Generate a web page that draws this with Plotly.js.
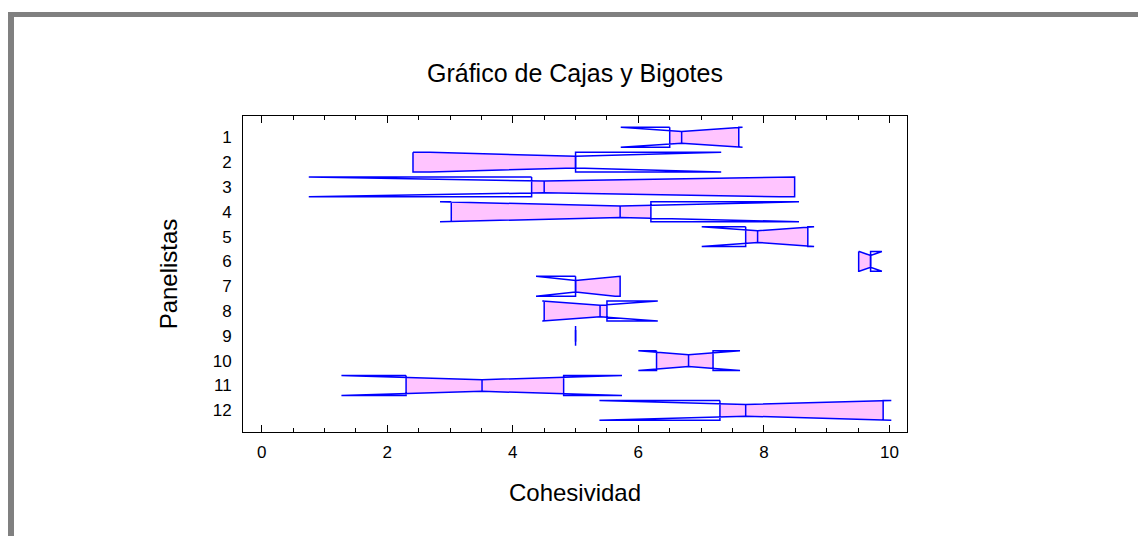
<!DOCTYPE html>
<html>
<head>
<meta charset="utf-8">
<script src="https://cdn.plot.ly/plotly-3.0.1.min.js"></script>
<style>
  html, body { margin:0; padding:0; background:#fff; }
  #wrap { position:relative; width:1138px; height:536px; overflow:hidden; }
  #chart { position:absolute; left:0; top:0; width:1138px; height:536px; }
  #frame { position:absolute; left:8px; top:12px; right:0; bottom:0;
           border-left:6px solid #808080; border-top:5px solid #808080;
           pointer-events:none; }
</style>
</head>
<body>
<div id="wrap">
  <div id="chart"></div>
  <div id="frame"></div>
</div>
<script>
// ---- Data ----
const panelistas = [1, 2, 3, 4, 5, 6, 7, 8, 9, 10, 11, 12];
const etiquetas  = ['1','2','3','4','5','6','7','8','9','10','11','12'];
const q1        = [6.50, 2.41, 4.30, 3.02, 7.71, 9.51, 5.00, 4.50, 5.00, 6.29, 2.30, 7.30];
const mediana   = [6.69, 5.00, 4.50, 5.71, 7.90, 9.70, 5.00, 5.39, 5.00, 6.80, 3.51, 7.71];
const q3        = [7.60, 5.00, 8.49, 6.20, 8.70, 9.70, 5.71, 5.50, 5.00, 7.19, 4.81, 9.90];
const muescaInf = [5.72, 2.68, 0.75, 2.84, 7.01, 9.52, 4.37, 4.47, 5.00, 6.00, 1.27, 5.38];
const muescaSup = [7.66, 7.32, 8.25, 8.56, 8.80, 9.88, 5.63, 6.31, 5.00, 7.62, 5.74, 10.03];

// ---- Styling ----
const H = 0.40;   // box half-height (category units)
const W = 0.235;  // notch waist half-height
const azul = '#0000ff';
const rosa = '#ffc4ff';

function halfH(x, nL, med, nH) {
  if (x <= nL || x >= nH) return H;
  if (x < med) return med === nL ? W : H - (H - W) * (x - nL) / (med - nL);
  return nH === med ? W : H - (H - W) * (nH - x) / (nH - med);
}

const traces = [];
const outlines = [];
for (let i = 0; i < panelistas.length; i++) {
  const c = panelistas[i];
  const a = q1[i], m = mediana[i], b = q3[i], nL = muescaInf[i], nH = muescaSup[i];
  // pink fill, limited to [Q1, Q3]
  if (b > a) {
    let xs = [a, b];
    [nL, m, nH].forEach(v => { if (v > a && v < b) xs.push(v); });
    xs = Array.from(new Set(xs)).sort((p, q) => p - q);
    const px = [], py = [];
    xs.forEach(x => { px.push(x); py.push(c - halfH(x, nL, m, nH)); });
    xs.slice().reverse().forEach(x => { px.push(x); py.push(c + halfH(x, nL, m, nH)); });
    px.push(px[0]); py.push(py[0]);
    traces.push({ type:'scatter', mode:'lines', x:px, y:py, fill:'toself',
      fillcolor:rosa, line:{width:0, color:rosa}, hoverinfo:'skip', showlegend:false });
  }
  // notched outline
  outlines.push({ type:'scatter', mode:'lines',
    x:[a, nL, m, nH, b, b, nH, m, nL, a, a],
    y:[c-H, c-H, c-W, c-H, c-H, c+H, c+H, c+W, c+H, c+H, c-H],
    line:{color:azul, width:1.5}, hoverinfo:'skip', showlegend:false });
  // median line
  outlines.push({ type:'scatter', mode:'lines', x:[m, m], y:[c-W, c+W],
    line:{color:azul, width:1.5}, hoverinfo:'skip', showlegend:false });
}

const fam = '"Liberation Sans", Arial, sans-serif';
const layout = {
  width:1138, height:536,
  margin:{l:243, r:231, t:116, b:104, pad:0},
  paper_bgcolor:'#ffffff', plot_bgcolor:'#ffffff',
  showlegend:false,
  font:{family:fam, color:'#000', size:17},
  title:{text:'Gráfico de Cajas y Bigotes', font:{family:fam, size:25, color:'#000'},
         x:0.5, xref:'paper', y:1-73/536, yref:'container', yanchor:'middle', xanchor:'center'},
  xaxis:{
    range:[-0.298, 10.28], tickmode:'linear', tick0:0, dtick:2,
    ticks:'inside', ticklen:7, tickwidth:1, tickcolor:'#000',
    minor:{dtick:0.5, tick0:0, ticks:'inside', ticklen:4, tickwidth:1, tickcolor:'#000'},
    showline:true, linecolor:'#000', linewidth:1, mirror:'ticks',
    showgrid:false, zeroline:false, ticklabelstandoff:5,
    tickfont:{family:fam, size:17, color:'#000'},
    title:{text:'Cohesividad', font:{family:fam, size:24, color:'#000'}, standoff:22}
  },
  yaxis:{
    range:[12.874, 0.142], tickmode:'array', tickvals:panelistas, ticktext:etiquetas,
    ticks:'', showline:true, linecolor:'#000', linewidth:1, mirror:true,
    showgrid:false, zeroline:false, ticklabelstandoff:7,
    tickfont:{family:fam, size:17, color:'#000'},
    title:{text:'Panelistas', font:{family:fam, size:24, color:'#000'}, standoff:28}
  }
};

Plotly.newPlot('chart', traces.concat(outlines), layout, {staticPlot:true, displayModeBar:false});
</script>
</body>
</html>
